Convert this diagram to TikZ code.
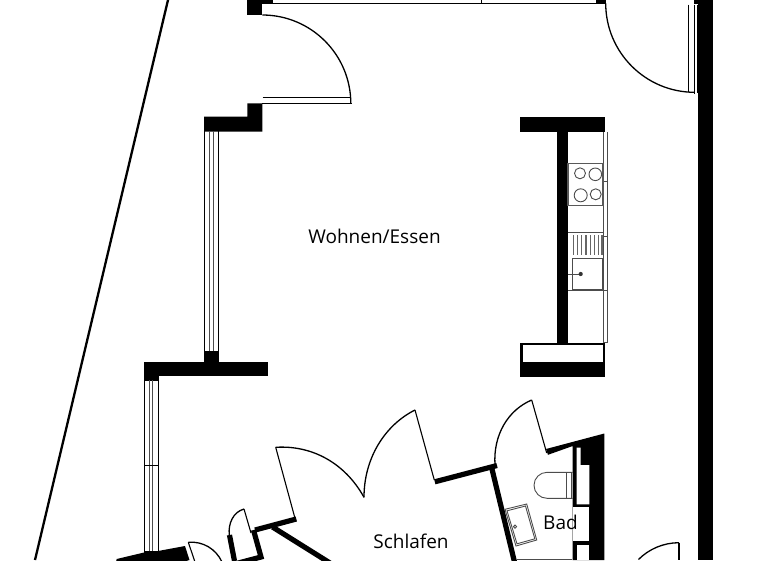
\documentclass[tikz,border=0pt]{standalone}
\usepackage{fontspec}
\setmainfont{Open Sans}
\begin{document}
\begin{tikzpicture}[x=1pt,y=-1pt,
  blk/.style={fill=black,draw=none},
  wallline/.style={line width=5.2pt,line cap=butt},
  thin1/.style={line width=1.2pt,black},
  arcline/.style={line width=1.3pt,black},
  gr/.style={line width=0.9pt,black!70},
  lbl/.style={inner sep=0pt,anchor=base,font=\fontsize{19}{20}\selectfont,text=black}]
\useasboundingbox (0,0) rectangle (768,560);
\clip (0,0) rectangle (768,560);
% site outline
\draw[line width=2.3pt] (168,0) -- (35,560);
% top wall and window
\fill[blk] (247.3,0) rectangle (262.3,15.3);
\fill[blk] (262,0) rectangle (272.7,4);
\fill[blk] (595.7,0) rectangle (605.7,4);
\draw[line width=1.3pt] (272,3.7) -- (596,3.7);
\draw[line width=.8pt] (481.5,0) -- (481.5,3.7);
% entry door top-left
\draw[arcline] (262.3,15) arc[start angle=-90,end angle=0,radius=88.5];
\draw[arcline] (262.5,97.7) -- (350,97.7);
\draw[arcline] (262.3,103.5) -- (351.6,103.5);
\fill[blk] (247.3,103.3) -- (262.3,103.3) -- (262.3,131.7) -- (204,131.7) -- (204,116.7) -- (247.3,116.7) -- cycle;
% upper-left window
\foreach \x in {204.5,218.8} \draw[thin1] (\x,131) -- (\x,352);
\foreach \x in {209.5,213.5} \draw[gr] (\x,131) -- (\x,352);
% mid wall
\fill[blk] (204,351) rectangle (219.3,362);
\fill[blk] (143.7,361.7) rectangle (268.3,376);
\fill[blk] (143.7,376) rectangle (159,380.7);
% lower-left window
\foreach \x in {144.3,158.5} \draw[thin1] (\x,380) -- (\x,552);
\foreach \x in {149.4,152.8} \draw[gr] (\x,380) -- (\x,552);
\draw[thin1] (144,465.7) -- (159,465.7);
% right wall
\fill[blk] (698.3,0) rectangle (713.3,560);
\fill[blk] (694,0) rectangle (698.3,4);
\draw[arcline] (605.7,3.3) arc[start angle=180,end angle=90,radius=89];
\draw[arcline] (688.7,4.5) -- (688.7,92);
\draw[arcline] (694.6,4.5) -- (694.6,93.5);
\draw[line width=.8pt] (697.5,4.5) -- (697.5,93);
% kitchen wall
\fill[blk] (520,116.7) rectangle (605,132.3);
\fill[blk] (557.3,132) rectangle (568.3,344);
\fill[blk] (520,342.7) rectangle (605,376.7);
\fill[white] (522.5,344.6) rectangle (603,361.5);
% counter
\draw[gr] (603.4,132.3) -- (603.4,290);
\draw[gr] (607.2,132.3) -- (607.2,342.7) -- (603,342.7);
\draw[gr] (603.4,181.7) -- (607.2,181.7);
\draw[gr] (603.4,236.7) -- (607.2,236.7);
\draw[gr] (568,290) -- (607.2,290);
\draw[gr] (603.6,290) -- (603.6,342.7);
% cooktop
\draw[line width=1.5pt,black!65] (568,163.3) rectangle (603.2,205.7);
\draw[gr] (580,173.3) circle[radius=5.5];
\draw[gr] (595.3,174.3) circle[radius=6.3];
\draw[gr] (580.7,195.3) circle[radius=6.5];
\draw[gr] (595.7,194.3) circle[radius=5.5];
% sink
\draw[gr] (568,232.7) -- (603.4,232.7);
\foreach \x in {573.5,577.7,581.8,586,590.2,594.3,598.5,602}
  \draw[line width=1.3pt,black!60] (\x,235) -- (\x,255);
\draw[line width=1.1pt,black!70] (572.3,258.3) rectangle (602.3,290);
\draw[gr] (568,274) -- (580,274);
\fill[black!80] (580.7,274) circle[radius=2.1];
% Schlafen doors and walls
\draw[line width=1.1pt] (295,518.3) -- (275.7,447.3);
\draw[arcline] (275.7,447.3) .. controls (312,445) and (345,463) .. (364,497.3);
\draw[arcline] (364,497.3) .. controls (364,458) and (385,425) .. (415,410);
\draw[line width=1.1pt] (415,410) -- (434.3,480);
\draw[wallline] (434.8,481.8) -- (497,465.5);
\draw[wallline] (491.5,467) -- (514.5,562);
\draw[wallline] (255,530) -- (296.3,519);
\draw[wallline] (272.5,527) -- (330,563);
% left small doors and walls
\draw[line width=1.1pt] (244,509) -- (251,533);
\draw[arcline] (244,509) .. controls (233,512) and (228,524) .. (229.3,535);
\draw[wallline] (229.5,535) -- (234.5,561);
\draw[wallline] (253.5,530) -- (261,557) -- (227,566);
\draw[line width=1.1pt] (188.3,542.3) -- (195,562);
\draw[arcline] (188.3,542.3) .. controls (203,541) and (216,549) .. (222,562);
\fill[blk] (144,551) -- (158,551) -- (185,546) -- (189.5,560) -- (183,562) -- (116,562) -- (116.7,559) -- (144,552.5) -- cycle;
% Bad door and walls
\draw[line width=1.1pt] (531.7,400) -- (546.7,453);
\draw[arcline] (531.7,400) .. controls (508,410) and (493,435) .. (495,465);
\fill[blk] (546,449) -- (604.3,433.5) -- (604.3,560) -- (572.7,560) -- (572.7,446) -- (548,454.8) -- cycle;
\fill[white] (576.7,447.5) -- (580.7,447.5) -- (580.7,465) -- (589.3,465) -- (589.3,504.3) -- (576.7,504.3) -- cycle;
\fill[white] (572.7,507.3) rectangle (589.3,540.7);
\fill[white] (576.7,545) rectangle (589.3,560);
% toilet
\draw[gr] (572.5,472.3) -- (547,472.3) arc[start angle=270,end angle=90,radius=13] -- (572.5,498.3);
\draw[gr] (566.7,472.3) -- (566.7,498.3);
\draw[gr] (571.7,472.3) -- (571.7,498.3);
% basin
\draw[gr] (505,509.3) -- (526.7,504) -- (536.7,540) -- (516,546) -- cycle;
\draw[gr] (507,510.8) -- (525.5,506) -- (534.8,538.8) -- (517,543.8) -- cycle;
\draw[gr] (515,526.7) circle[radius=1.6];
\draw[gr] (516.7,559.4) -- (572,559.4);
% bottom right door
\draw[arcline] (679,542.7) arc[start angle=270,end angle=225,radius=57.3];
\draw[line width=1.4pt] (679,542.7) -- (679,560);
% labels
\node[lbl] (wohnen) at (374.5,243) {Wohnen/Essen};
\node[lbl] (schlafen) at (411,548) {Schlafen};
\node[lbl] (bad) at (560.5,529) {Bad};
\end{tikzpicture}
\end{document}
